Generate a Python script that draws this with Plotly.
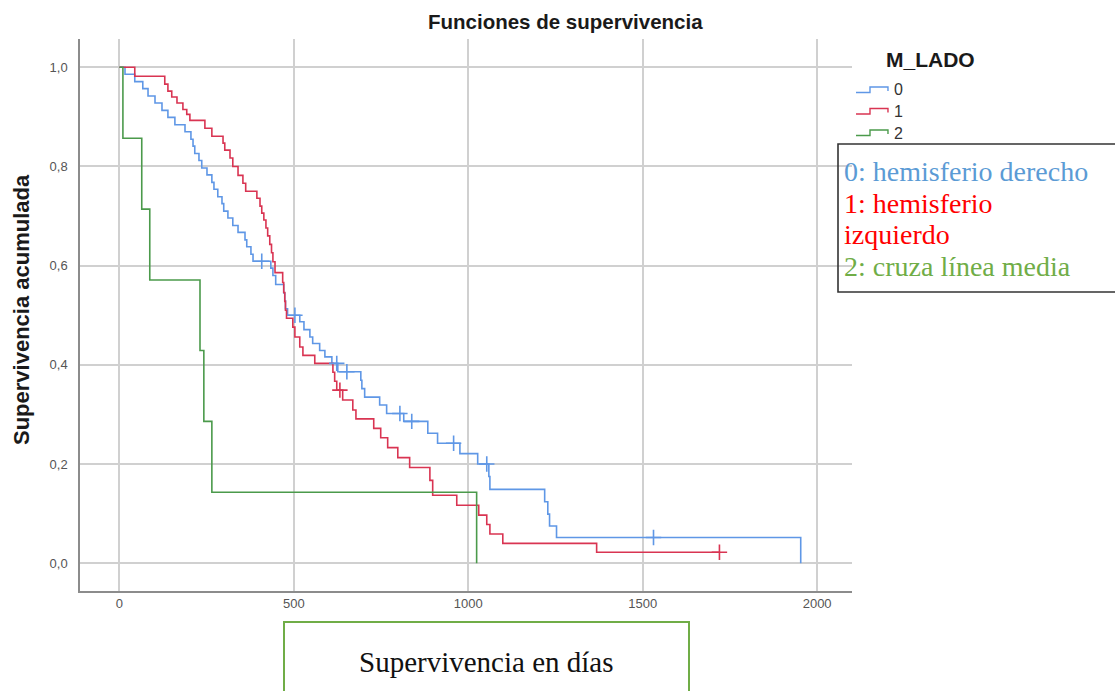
import plotly.graph_objects as go

# Kaplan-Meier survival by M_LADO group (days, cumulative survival after each step)
blue_t = [16, 44, 67, 82, 102, 122, 139, 159, 188, 205, 211, 216, 228, 236, 251, 265, 271, 282, 294, 299,
          311, 325, 340, 360, 365, 377, 383, 434, 440, 448, 471, 474, 476, 482, 517, 529, 546, 554, 574, 589,
          609, 626, 692, 695, 703, 746, 766, 815, 884, 912, 976, 1027, 1059, 1062, 1219, 1228, 1233, 1253, 1953]
blue_s = [0.986, 0.971, 0.957, 0.942, 0.928, 0.913, 0.899, 0.884, 0.870, 0.855, 0.841, 0.826, 0.812, 0.797,
          0.783, 0.768, 0.754, 0.739, 0.725, 0.710, 0.696, 0.681, 0.667, 0.652, 0.638, 0.623, 0.609, 0.595,
          0.580, 0.562, 0.545, 0.529, 0.513, 0.500, 0.487, 0.471, 0.456, 0.443, 0.429, 0.416, 0.403, 0.386,
          0.369, 0.352, 0.335, 0.319, 0.302, 0.286, 0.262, 0.242, 0.221, 0.200, 0.175, 0.149, 0.124, 0.099,
          0.075, 0.052, 0.0]
blue_cens_t = [408, 503, 623, 652, 804, 838, 958, 1053, 1531]
blue_cens_s = [0.609, 0.500, 0.403, 0.386, 0.302, 0.286, 0.242, 0.200, 0.052]

red_t = [44, 130, 139, 150, 165, 182, 193, 202, 245, 265, 297, 302, 317, 325, 340, 354, 362, 394, 403, 408,
         414, 420, 425, 431, 436, 440, 446, 468, 471, 474, 476, 479, 497, 503, 517, 526, 560, 612, 617, 623,
         640, 669, 678, 729, 749, 769, 798, 832, 890, 898, 967, 1030, 1053, 1062, 1099, 1368]
red_s = [0.982, 0.966, 0.952, 0.940, 0.928, 0.915, 0.905, 0.893, 0.877, 0.861, 0.847, 0.833, 0.817, 0.800,
         0.782, 0.766, 0.750, 0.736, 0.720, 0.706, 0.692, 0.676, 0.660, 0.643, 0.626, 0.608, 0.586, 0.566,
         0.546, 0.528, 0.510, 0.494, 0.476, 0.456, 0.436, 0.419, 0.403, 0.385, 0.367, 0.349, 0.329, 0.309,
         0.291, 0.272, 0.253, 0.233, 0.213, 0.193, 0.167, 0.137, 0.117, 0.097, 0.078, 0.059, 0.040, 0.022]
red_cens_t = [632, 1720]
red_cens_s = [0.349, 0.022]

green_t = [10, 64, 87, 231, 242, 265, 1024]
green_s = [0.857, 0.714, 0.571, 0.429, 0.286, 0.143, 0.0]

groups = ["0", "1", "2"]
x_ticks = [0, 500, 1000, 1500, 2000]
y_ticks = [0.0, 0.2, 0.4, 0.6, 0.8, 1.0]
y_ticktext = ["0,0", "0,2", "0,4", "0,6", "0,8", "1,0"]

line_colors = ["#5f97e6", "#d93452", "#4b9a4b"]
label_colors = ["#5b9bd5", "#ff0000", "#70ad47"]

W, H = 1115, 691
L, R, T, B = 80, 852, 39, 591  # plot-area edges in pixels


def px(x):
    return (x - L) / (R - L)


def py(y):
    return (B - y) / (B - T)


fig = go.Figure()

curves = [
    (blue_t, blue_s, None),
    (red_t, red_s, (red_cens_t[-1], red_cens_s[-1])),
    (green_t, green_s, None),
]
for i, (t, s, tail) in enumerate(curves):
    xs = [0] + list(t)
    ys = [1.0] + list(s)
    if tail is not None:
        xs.append(tail[0])
        ys.append(tail[1])
    fig.add_trace(go.Scatter(x=xs, y=ys, mode="lines", line=dict(color=line_colors[i], width=1.6, shape="hv"),
                             showlegend=False, hoverinfo="skip"))

for i, (ct, cs) in enumerate([(blue_cens_t, blue_cens_s), (red_cens_t, red_cens_s)]):
    fig.add_trace(go.Scatter(x=ct, y=cs, mode="markers",
                             marker=dict(symbol="cross-thin", size=11,
                                         line=dict(color=line_colors[i], width=1.6)),
                             showlegend=False, hoverinfo="skip"))

shapes = []
annotations = []

# Title and y-axis title
annotations.append(dict(text="<b>Funciones de supervivencia</b>", x=px(565), y=py(22), xref="paper", yref="paper",
                        showarrow=False, font=dict(family="Liberation Sans", size=20.5, color="#1a1a1a"),
                        xanchor="center", yanchor="middle"))
annotations.append(dict(text="<b>Supervivencia acumulada</b>", x=px(21), y=py(310), xref="paper", yref="paper",
                        showarrow=False, textangle=-90,
                        font=dict(family="Liberation Sans", size=22, color="#1a1a1a"),
                        xanchor="center", yanchor="middle"))

# Legend: heading, step icons and group keys
annotations.append(dict(text="<b>M_LADO</b>", x=px(884), y=py(59), xref="paper", yref="paper", showarrow=False,
                        font=dict(family="Liberation Sans", size=21, color="#1a1a1a"),
                        xanchor="left", yanchor="middle"))
for i, g in enumerate(groups):
    cy = 90 + i * 21.5
    path = "M {:.4f},{:.4f} L {:.4f},{:.4f} L {:.4f},{:.4f} L {:.4f},{:.4f} L {:.4f},{:.4f}".format(
        px(856), py(cy + 2.5), px(870), py(cy + 2.5), px(870), py(cy - 3),
        px(888), py(cy - 3), px(888), py(cy + 1))
    shapes.append(dict(type="path", path=path, xref="paper", yref="paper",
                       line=dict(color=line_colors[i], width=1.4)))
    annotations.append(dict(text=g, x=px(892), y=py(cy), xref="paper", yref="paper", showarrow=False,
                            font=dict(family="Liberation Sans", size=16, color="#333333"),
                            xanchor="left", yanchor="middle"))

# Boxed key of group meanings
shapes.append(dict(type="rect", x0=px(838), x1=px(1125), y0=py(144), y1=py(292), xref="paper", yref="paper",
                   line=dict(color="#333333", width=1.6), fillcolor="rgba(0,0,0,0)"))
key_lines = [("0: hemisferio derecho", 0, 172), ("1: hemisferio", 1, 203),
             ("izquierdo", 1, 234), ("2: cruza línea media", 2, 266)]
for txt, ci, cy in key_lines:
    annotations.append(dict(text=txt, x=px(842), y=py(cy), xref="paper", yref="paper", showarrow=False,
                            font=dict(family="Liberation Serif", size=28, color=label_colors[ci]),
                            xanchor="left", yanchor="middle"))

# Boxed x-axis caption
shapes.append(dict(type="rect", x0=px(284), x1=px(689), y0=py(622), y1=py(700), xref="paper", yref="paper",
                   line=dict(color="#70ad47", width=2), fillcolor="rgba(0,0,0,0)"))
annotations.append(dict(text="Supervivencia en días", x=px(486), y=py(662), xref="paper", yref="paper",
                        showarrow=False, font=dict(family="Liberation Serif", size=29, color="#111111"),
                        xanchor="center", yanchor="middle"))

x0_day = -113
x1_day = 2100
fig.update_layout(
    width=W, height=H,
    margin=dict(l=L, r=W - R, t=T, b=H - B, pad=0),
    paper_bgcolor="white", plot_bgcolor="white",
    showlegend=False,
    shapes=shapes, annotations=annotations,
    xaxis=dict(range=[x0_day, x1_day], tickvals=x_ticks, ticktext=[str(v) for v in x_ticks],
               showgrid=True, gridcolor="#d0d0d0", gridwidth=2, zeroline=False,
               showline=True, linecolor="#8c8c8c", linewidth=1.5, ticks="",
               tickfont=dict(family="Liberation Sans", size=13, color="#555555")),
    yaxis=dict(range=[-0.056, 1.057], tickvals=y_ticks, ticktext=y_ticktext,
               showgrid=True, gridcolor="#d0d0d0", gridwidth=2, zeroline=False,
               showline=True, linecolor="#8c8c8c", linewidth=1.5, ticks="", ticklabelstandoff=8,
               tickfont=dict(family="Liberation Sans", size=13, color="#555555")),
)

fig.write_html("out.html")
